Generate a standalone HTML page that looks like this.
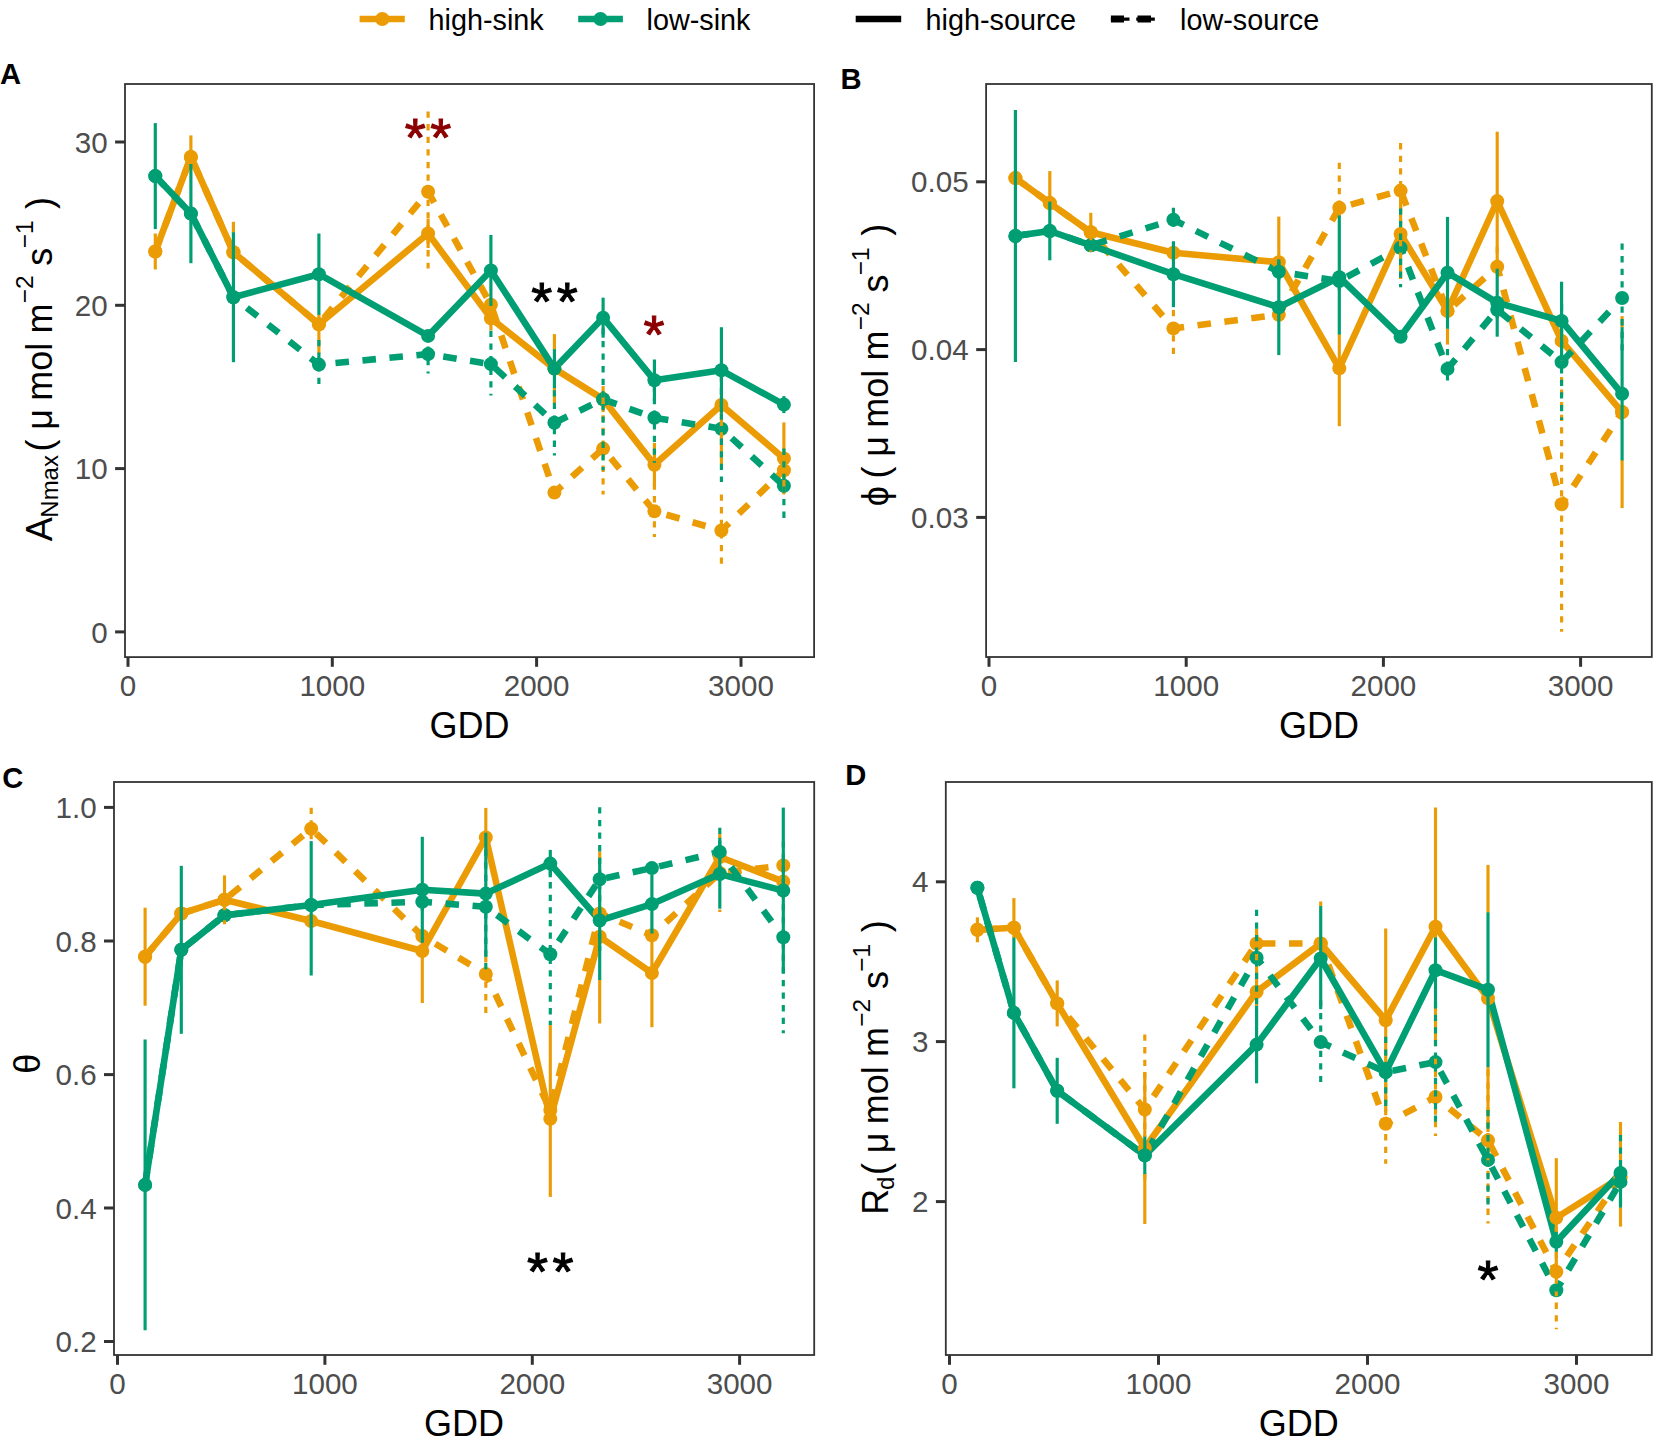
<!DOCTYPE html>
<html lang="en"><head><meta charset="utf-8"><title>Figure</title>
<style>html,body{margin:0;padding:0;background:#fff}svg{display:block}text{font-family:"Liberation Sans",sans-serif}.tk{font-size:29.6px;fill:#4D4D4D}.ax{font-size:36px;fill:#000}.tag{font-size:29.2px;font-weight:bold;fill:#000}.lg{font-size:28.8px;fill:#000}.st{font-size:54px;text-anchor:middle;letter-spacing:4.5px;stroke-width:1px}</style></head><body>
<svg width="1658" height="1446" viewBox="0 0 1658 1446">
<rect x="0" y="0" width="1658" height="1446" fill="#fff"/>
<g id="panelA">
<polyline points="155.3,251.5 190.9,156.9 233.4,252.3 318.9,324.2 428.1,233.5 490.9,318.4 554.4,368.6 603.1,399.1 654.4,464.7 721.4,405 783.9,458.4" fill="none" stroke="#EB9C05" stroke-width="6.6" stroke-linejoin="round"/>
<polyline points="155.3,251.5 190.9,156.9 233.4,252.3 318.9,324.2 428.1,191.8 490.9,304.7 554.4,492.6 603.1,448.6 654.4,511.3 721.4,530.5 783.9,470.2" fill="none" stroke="#EB9C05" stroke-width="6.6" stroke-linejoin="round" stroke-dasharray="13.55 13.55"/>
<polyline points="155.3,176.1 190.9,213.6 233.4,297.2 318.9,274.2 428.1,335.9 490.9,270.5 554.4,368.6 603.1,317.7 654.4,380.3 721.4,370.3 783.9,404.6" fill="none" stroke="#009E73" stroke-width="6.6" stroke-linejoin="round"/>
<polyline points="155.3,176.1 190.9,213.6 233.4,297.2 318.9,364.6 428.1,354.1 490.9,364.1 554.4,422.8 603.1,399.3 654.4,417.8 721.4,428.7 783.9,485.8" fill="none" stroke="#009E73" stroke-width="6.6" stroke-linejoin="round" stroke-dasharray="13.55 13.55"/>
<circle cx="155.3" cy="251.5" r="7.0" fill="#EB9C05"/>
<circle cx="190.9" cy="156.9" r="7.0" fill="#EB9C05"/>
<circle cx="233.4" cy="252.3" r="7.0" fill="#EB9C05"/>
<circle cx="318.9" cy="324.2" r="7.0" fill="#EB9C05"/>
<circle cx="428.1" cy="233.5" r="7.0" fill="#EB9C05"/>
<circle cx="490.9" cy="318.4" r="7.0" fill="#EB9C05"/>
<circle cx="554.4" cy="368.6" r="7.0" fill="#EB9C05"/>
<circle cx="603.1" cy="399.1" r="7.0" fill="#EB9C05"/>
<circle cx="654.4" cy="464.7" r="7.0" fill="#EB9C05"/>
<circle cx="721.4" cy="405" r="7.0" fill="#EB9C05"/>
<circle cx="783.9" cy="458.4" r="7.0" fill="#EB9C05"/>
<circle cx="155.3" cy="251.5" r="7.0" fill="#EB9C05"/>
<circle cx="190.9" cy="156.9" r="7.0" fill="#EB9C05"/>
<circle cx="233.4" cy="252.3" r="7.0" fill="#EB9C05"/>
<circle cx="318.9" cy="324.2" r="7.0" fill="#EB9C05"/>
<circle cx="428.1" cy="191.8" r="7.0" fill="#EB9C05"/>
<circle cx="490.9" cy="304.7" r="7.0" fill="#EB9C05"/>
<circle cx="554.4" cy="492.6" r="7.0" fill="#EB9C05"/>
<circle cx="603.1" cy="448.6" r="7.0" fill="#EB9C05"/>
<circle cx="654.4" cy="511.3" r="7.0" fill="#EB9C05"/>
<circle cx="721.4" cy="530.5" r="7.0" fill="#EB9C05"/>
<circle cx="783.9" cy="470.2" r="7.0" fill="#EB9C05"/>
<circle cx="155.3" cy="176.1" r="7.0" fill="#009E73"/>
<circle cx="190.9" cy="213.6" r="7.0" fill="#009E73"/>
<circle cx="233.4" cy="297.2" r="7.0" fill="#009E73"/>
<circle cx="318.9" cy="274.2" r="7.0" fill="#009E73"/>
<circle cx="428.1" cy="335.9" r="7.0" fill="#009E73"/>
<circle cx="490.9" cy="270.5" r="7.0" fill="#009E73"/>
<circle cx="554.4" cy="368.6" r="7.0" fill="#009E73"/>
<circle cx="603.1" cy="317.7" r="7.0" fill="#009E73"/>
<circle cx="654.4" cy="380.3" r="7.0" fill="#009E73"/>
<circle cx="721.4" cy="370.3" r="7.0" fill="#009E73"/>
<circle cx="783.9" cy="404.6" r="7.0" fill="#009E73"/>
<circle cx="155.3" cy="176.1" r="7.0" fill="#009E73"/>
<circle cx="190.9" cy="213.6" r="7.0" fill="#009E73"/>
<circle cx="233.4" cy="297.2" r="7.0" fill="#009E73"/>
<circle cx="318.9" cy="364.6" r="7.0" fill="#009E73"/>
<circle cx="428.1" cy="354.1" r="7.0" fill="#009E73"/>
<circle cx="490.9" cy="364.1" r="7.0" fill="#009E73"/>
<circle cx="554.4" cy="422.8" r="7.0" fill="#009E73"/>
<circle cx="603.1" cy="399.3" r="7.0" fill="#009E73"/>
<circle cx="654.4" cy="417.8" r="7.0" fill="#009E73"/>
<circle cx="721.4" cy="428.7" r="7.0" fill="#009E73"/>
<circle cx="783.9" cy="485.8" r="7.0" fill="#009E73"/>
<line x1="155.3" y1="233.5" x2="155.3" y2="269.5" stroke="#EB9C05" stroke-width="3.15"/>
<line x1="190.9" y1="135.4" x2="190.9" y2="164.4" stroke="#EB9C05" stroke-width="3.15"/>
<line x1="233.4" y1="221.8" x2="233.4" y2="232.6" stroke="#EB9C05" stroke-width="3.15"/>
<line x1="318.9" y1="314.5" x2="318.9" y2="353.6" stroke="#EB9C05" stroke-width="3.15"/>
<line x1="428.1" y1="219" x2="428.1" y2="248" stroke="#EB9C05" stroke-width="3.15"/>
<line x1="490.9" y1="306.4" x2="490.9" y2="330.4" stroke="#EB9C05" stroke-width="3.15"/>
<line x1="554.4" y1="334.1" x2="554.4" y2="349.5" stroke="#EB9C05" stroke-width="3.15"/>
<line x1="554.4" y1="387.7" x2="554.4" y2="403.1" stroke="#EB9C05" stroke-width="3.15"/>
<line x1="603.1" y1="386.1" x2="603.1" y2="412.1" stroke="#EB9C05" stroke-width="3.15"/>
<line x1="654.4" y1="442.9" x2="654.4" y2="486.5" stroke="#EB9C05" stroke-width="3.15"/>
<line x1="721.4" y1="413" x2="721.4" y2="464" stroke="#EB9C05" stroke-width="3.15"/>
<line x1="783.9" y1="422.4" x2="783.9" y2="494.4" stroke="#EB9C05" stroke-width="3.15"/>
<line x1="428.1" y1="111.5" x2="428.1" y2="268.6" stroke="#EB9C05" stroke-width="3.15" stroke-dasharray="6.3 6.3"/>
<line x1="490.9" y1="305.6" x2="490.9" y2="314.7" stroke="#EB9C05" stroke-width="3.15" stroke-dasharray="6.3 6.3" stroke-dashoffset="10.9"/>
<line x1="603.1" y1="402.6" x2="603.1" y2="494.6" stroke="#EB9C05" stroke-width="3.15" stroke-dasharray="6.3 6.3"/>
<line x1="654.4" y1="483.5" x2="654.4" y2="537.1" stroke="#EB9C05" stroke-width="3.15" stroke-dasharray="6.3 6.3"/>
<line x1="721.4" y1="494.5" x2="721.4" y2="563.7" stroke="#EB9C05" stroke-width="3.15" stroke-dasharray="6.3 6.3"/>
<line x1="783.9" y1="460.2" x2="783.9" y2="480.2" stroke="#EB9C05" stroke-width="3.15" stroke-dasharray="6.3 6.3"/>
<line x1="155.3" y1="123.1" x2="155.3" y2="229.1" stroke="#009E73" stroke-width="3.15"/>
<line x1="190.9" y1="164" x2="190.9" y2="263.2" stroke="#009E73" stroke-width="3.15"/>
<line x1="233.4" y1="232.2" x2="233.4" y2="362.2" stroke="#009E73" stroke-width="3.15"/>
<line x1="318.9" y1="233.5" x2="318.9" y2="314.9" stroke="#009E73" stroke-width="3.15"/>
<line x1="428.1" y1="329.9" x2="428.1" y2="341.9" stroke="#009E73" stroke-width="3.15"/>
<line x1="490.9" y1="235" x2="490.9" y2="306" stroke="#009E73" stroke-width="3.15"/>
<line x1="554.4" y1="349.1" x2="554.4" y2="388.1" stroke="#009E73" stroke-width="3.15"/>
<line x1="603.1" y1="297.7" x2="603.1" y2="337.7" stroke="#009E73" stroke-width="3.15"/>
<line x1="654.4" y1="359.5" x2="654.4" y2="401.1" stroke="#009E73" stroke-width="3.15"/>
<line x1="721.4" y1="327.2" x2="721.4" y2="413.4" stroke="#009E73" stroke-width="3.15"/>
<line x1="783.9" y1="396.1" x2="783.9" y2="413.1" stroke="#009E73" stroke-width="3.15"/>
<line x1="318.9" y1="339.9" x2="318.9" y2="384" stroke="#009E73" stroke-width="3.15" stroke-dasharray="6.3 6.3"/>
<line x1="428.1" y1="333.8" x2="428.1" y2="373.4" stroke="#009E73" stroke-width="3.15" stroke-dasharray="6.3 6.3"/>
<line x1="490.9" y1="330.8" x2="490.9" y2="395.6" stroke="#009E73" stroke-width="3.15" stroke-dasharray="6.3 6.3"/>
<line x1="554.4" y1="390.2" x2="554.4" y2="455.4" stroke="#009E73" stroke-width="3.15" stroke-dasharray="6.3 6.3"/>
<line x1="603.1" y1="328.3" x2="603.1" y2="470.3" stroke="#009E73" stroke-width="3.15" stroke-dasharray="6.3 6.3"/>
<line x1="654.4" y1="372.8" x2="654.4" y2="462.8" stroke="#009E73" stroke-width="3.15" stroke-dasharray="6.3 6.3"/>
<line x1="721.4" y1="375.6" x2="721.4" y2="482" stroke="#009E73" stroke-width="3.15" stroke-dasharray="6.3 6.3"/>
<line x1="783.9" y1="448.6" x2="783.9" y2="518" stroke="#009E73" stroke-width="3.15" stroke-dasharray="6.3 6.3"/>
<text class="st" x="430.2" y="156.4" fill="#8B0000" stroke="#8B0000">**</text><text class="st" x="556.7" y="319.5" fill="#000" stroke="#000">**</text><text class="st" x="656.2" y="353" fill="#8B0000" stroke="#8B0000">*</text>
<rect x="125" y="84" width="689.1" height="573.1" fill="none" stroke="#333" stroke-width="1.8"/>
<line x1="128" y1="657" x2="128" y2="666.8" stroke="#333" stroke-width="3"/>
<text class="tk" x="128" y="696.4" text-anchor="middle">0</text>
<line x1="332.3" y1="657" x2="332.3" y2="666.8" stroke="#333" stroke-width="3"/>
<text class="tk" x="332.3" y="696.4" text-anchor="middle">1000</text>
<line x1="536.6" y1="657" x2="536.6" y2="666.8" stroke="#333" stroke-width="3"/>
<text class="tk" x="536.6" y="696.4" text-anchor="middle">2000</text>
<line x1="741" y1="657" x2="741" y2="666.8" stroke="#333" stroke-width="3"/>
<text class="tk" x="741" y="696.4" text-anchor="middle">3000</text>
<line x1="115.1" y1="142" x2="125" y2="142" stroke="#333" stroke-width="3"/>
<text class="tk" x="107.6" y="152.6" text-anchor="end">30</text>
<line x1="115.1" y1="305.3" x2="125" y2="305.3" stroke="#333" stroke-width="3"/>
<text class="tk" x="107.6" y="315.9" text-anchor="end">20</text>
<line x1="115.1" y1="468.6" x2="125" y2="468.6" stroke="#333" stroke-width="3"/>
<text class="tk" x="107.6" y="479.2" text-anchor="end">10</text>
<line x1="115.1" y1="631.9" x2="125" y2="631.9" stroke="#333" stroke-width="3"/>
<text class="tk" x="107.6" y="642.5" text-anchor="end">0</text>
<text class="ax" x="469.6" y="737.8" text-anchor="middle">GDD</text>
<text class="tag" x="0" y="84.4">A</text>
</g>
<g id="panelB">
<polyline points="1015.4,178.1 1049.8,203.1 1090.8,232.3 1173.4,252.8 1278.8,262.2 1339.3,368.4 1400.6,234 1447.5,310.9 1497.2,201.1 1561.6,340.9 1622.1,412.1" fill="none" stroke="#EB9C05" stroke-width="6.6" stroke-linejoin="round"/>
<polyline points="1015.4,178.1 1049.8,203.1 1090.8,232.3 1173.4,328.4 1278.8,314.7 1339.3,207.8 1400.6,190.6 1447.5,310.9 1497.2,266.7 1561.6,504.3 1622.1,412.1" fill="none" stroke="#EB9C05" stroke-width="6.6" stroke-linejoin="round" stroke-dasharray="13.55 13.55"/>
<polyline points="1015.4,236 1049.8,231 1090.8,245.3 1173.4,274.2 1278.8,307.2 1339.3,277.2 1400.6,336.7 1447.5,272.7 1497.2,302.7 1561.6,320.9 1622.1,393.8" fill="none" stroke="#009E73" stroke-width="6.6" stroke-linejoin="round"/>
<polyline points="1015.4,236 1049.8,231 1090.8,245.3 1173.4,219.8 1278.8,271.7 1339.3,281 1400.6,247.8 1447.5,368.9 1497.2,309.7 1561.6,362.1 1622.1,298" fill="none" stroke="#009E73" stroke-width="6.6" stroke-linejoin="round" stroke-dasharray="13.55 13.55"/>
<circle cx="1015.4" cy="178.1" r="7.0" fill="#EB9C05"/>
<circle cx="1049.8" cy="203.1" r="7.0" fill="#EB9C05"/>
<circle cx="1090.8" cy="232.3" r="7.0" fill="#EB9C05"/>
<circle cx="1173.4" cy="252.8" r="7.0" fill="#EB9C05"/>
<circle cx="1278.8" cy="262.2" r="7.0" fill="#EB9C05"/>
<circle cx="1339.3" cy="368.4" r="7.0" fill="#EB9C05"/>
<circle cx="1400.6" cy="234" r="7.0" fill="#EB9C05"/>
<circle cx="1447.5" cy="310.9" r="7.0" fill="#EB9C05"/>
<circle cx="1497.2" cy="201.1" r="7.0" fill="#EB9C05"/>
<circle cx="1561.6" cy="340.9" r="7.0" fill="#EB9C05"/>
<circle cx="1622.1" cy="412.1" r="7.0" fill="#EB9C05"/>
<circle cx="1015.4" cy="178.1" r="7.0" fill="#EB9C05"/>
<circle cx="1049.8" cy="203.1" r="7.0" fill="#EB9C05"/>
<circle cx="1090.8" cy="232.3" r="7.0" fill="#EB9C05"/>
<circle cx="1173.4" cy="328.4" r="7.0" fill="#EB9C05"/>
<circle cx="1278.8" cy="314.7" r="7.0" fill="#EB9C05"/>
<circle cx="1339.3" cy="207.8" r="7.0" fill="#EB9C05"/>
<circle cx="1400.6" cy="190.6" r="7.0" fill="#EB9C05"/>
<circle cx="1447.5" cy="310.9" r="7.0" fill="#EB9C05"/>
<circle cx="1497.2" cy="266.7" r="7.0" fill="#EB9C05"/>
<circle cx="1561.6" cy="504.3" r="7.0" fill="#EB9C05"/>
<circle cx="1622.1" cy="412.1" r="7.0" fill="#EB9C05"/>
<circle cx="1015.4" cy="236" r="7.0" fill="#009E73"/>
<circle cx="1049.8" cy="231" r="7.0" fill="#009E73"/>
<circle cx="1090.8" cy="245.3" r="7.0" fill="#009E73"/>
<circle cx="1173.4" cy="274.2" r="7.0" fill="#009E73"/>
<circle cx="1278.8" cy="307.2" r="7.0" fill="#009E73"/>
<circle cx="1339.3" cy="277.2" r="7.0" fill="#009E73"/>
<circle cx="1400.6" cy="336.7" r="7.0" fill="#009E73"/>
<circle cx="1447.5" cy="272.7" r="7.0" fill="#009E73"/>
<circle cx="1497.2" cy="302.7" r="7.0" fill="#009E73"/>
<circle cx="1561.6" cy="320.9" r="7.0" fill="#009E73"/>
<circle cx="1622.1" cy="393.8" r="7.0" fill="#009E73"/>
<circle cx="1015.4" cy="236" r="7.0" fill="#009E73"/>
<circle cx="1049.8" cy="231" r="7.0" fill="#009E73"/>
<circle cx="1090.8" cy="245.3" r="7.0" fill="#009E73"/>
<circle cx="1173.4" cy="219.8" r="7.0" fill="#009E73"/>
<circle cx="1278.8" cy="271.7" r="7.0" fill="#009E73"/>
<circle cx="1339.3" cy="281" r="7.0" fill="#009E73"/>
<circle cx="1400.6" cy="247.8" r="7.0" fill="#009E73"/>
<circle cx="1447.5" cy="368.9" r="7.0" fill="#009E73"/>
<circle cx="1497.2" cy="309.7" r="7.0" fill="#009E73"/>
<circle cx="1561.6" cy="362.1" r="7.0" fill="#009E73"/>
<circle cx="1622.1" cy="298" r="7.0" fill="#009E73"/>
<line x1="1049.8" y1="171.1" x2="1049.8" y2="202.1" stroke="#EB9C05" stroke-width="3.15"/>
<line x1="1090.8" y1="212.8" x2="1090.8" y2="240.7" stroke="#EB9C05" stroke-width="3.15"/>
<line x1="1090.8" y1="249.9" x2="1090.8" y2="251.8" stroke="#EB9C05" stroke-width="3.15"/>
<line x1="1278.8" y1="216.6" x2="1278.8" y2="259.7" stroke="#EB9C05" stroke-width="3.15"/>
<line x1="1339.3" y1="334.1" x2="1339.3" y2="426.2" stroke="#EB9C05" stroke-width="3.15"/>
<line x1="1400.6" y1="189" x2="1400.6" y2="279" stroke="#EB9C05" stroke-width="3.15"/>
<line x1="1447.5" y1="328.3" x2="1447.5" y2="344.6" stroke="#EB9C05" stroke-width="3.15"/>
<line x1="1497.2" y1="131.7" x2="1497.2" y2="269.1" stroke="#EB9C05" stroke-width="3.15"/>
<line x1="1561.6" y1="359.7" x2="1561.6" y2="360.9" stroke="#EB9C05" stroke-width="3.15"/>
<line x1="1622.1" y1="316.1" x2="1622.1" y2="327.6" stroke="#EB9C05" stroke-width="3.15"/>
<line x1="1622.1" y1="460" x2="1622.1" y2="508.1" stroke="#EB9C05" stroke-width="3.15"/>
<line x1="1173.4" y1="306.8" x2="1173.4" y2="359.4" stroke="#EB9C05" stroke-width="3.15" stroke-dasharray="6.3 6.3" stroke-dashoffset="9.4"/>
<line x1="1339.3" y1="162.8" x2="1339.3" y2="215.8" stroke="#EB9C05" stroke-width="3.15" stroke-dasharray="6.3 6.3"/>
<line x1="1400.6" y1="143.1" x2="1400.6" y2="238.1" stroke="#EB9C05" stroke-width="3.15" stroke-dasharray="6.3 6.3"/>
<line x1="1497.2" y1="246.7" x2="1497.2" y2="269.1" stroke="#EB9C05" stroke-width="3.15" stroke-dasharray="6.3 6.3"/>
<line x1="1561.6" y1="376.9" x2="1561.6" y2="631.7" stroke="#EB9C05" stroke-width="3.15" stroke-dasharray="6.3 6.3"/>
<line x1="1015.4" y1="110" x2="1015.4" y2="362" stroke="#009E73" stroke-width="3.15"/>
<line x1="1049.8" y1="201.7" x2="1049.8" y2="260.3" stroke="#009E73" stroke-width="3.15"/>
<line x1="1090.8" y1="240.3" x2="1090.8" y2="250.3" stroke="#009E73" stroke-width="3.15"/>
<line x1="1173.4" y1="241.2" x2="1173.4" y2="307.2" stroke="#009E73" stroke-width="3.15"/>
<line x1="1278.8" y1="259.3" x2="1278.8" y2="355.1" stroke="#009E73" stroke-width="3.15"/>
<line x1="1339.3" y1="215.4" x2="1339.3" y2="334.5" stroke="#009E73" stroke-width="3.15"/>
<line x1="1400.6" y1="331.7" x2="1400.6" y2="341.7" stroke="#009E73" stroke-width="3.15"/>
<line x1="1447.5" y1="216.9" x2="1447.5" y2="328.7" stroke="#009E73" stroke-width="3.15"/>
<line x1="1497.2" y1="268.7" x2="1497.2" y2="336.7" stroke="#009E73" stroke-width="3.15"/>
<line x1="1561.6" y1="281.7" x2="1561.6" y2="360.1" stroke="#009E73" stroke-width="3.15"/>
<line x1="1622.1" y1="327.2" x2="1622.1" y2="460.4" stroke="#009E73" stroke-width="3.15"/>
<line x1="1173.4" y1="207.8" x2="1173.4" y2="231.8" stroke="#009E73" stroke-width="3.15" stroke-dasharray="6.3 6.3"/>
<line x1="1278.8" y1="261.7" x2="1278.8" y2="281.7" stroke="#009E73" stroke-width="3.15" stroke-dasharray="6.3 6.3"/>
<line x1="1339.3" y1="271" x2="1339.3" y2="291" stroke="#009E73" stroke-width="3.15" stroke-dasharray="6.3 6.3"/>
<line x1="1400.6" y1="208.4" x2="1400.6" y2="287.2" stroke="#009E73" stroke-width="3.15" stroke-dasharray="6.3 6.3"/>
<line x1="1447.5" y1="349" x2="1447.5" y2="381" stroke="#009E73" stroke-width="3.15" stroke-dasharray="6.3 6.3"/>
<line x1="1497.2" y1="299.7" x2="1497.2" y2="319.7" stroke="#009E73" stroke-width="3.15" stroke-dasharray="6.3 6.3"/>
<line x1="1561.6" y1="304.1" x2="1561.6" y2="420.1" stroke="#009E73" stroke-width="3.15" stroke-dasharray="6.3 6.3"/>
<line x1="1622.1" y1="243.5" x2="1622.1" y2="352.5" stroke="#009E73" stroke-width="3.15" stroke-dasharray="6.3 6.3"/>

<rect x="986.1" y="84" width="665.7" height="573" fill="none" stroke="#333" stroke-width="1.8"/>
<line x1="989" y1="657" x2="989" y2="666.8" stroke="#333" stroke-width="3"/>
<text class="tk" x="989" y="696.4" text-anchor="middle">0</text>
<line x1="1186.2" y1="657" x2="1186.2" y2="666.8" stroke="#333" stroke-width="3"/>
<text class="tk" x="1186.2" y="696.4" text-anchor="middle">1000</text>
<line x1="1383.4" y1="657" x2="1383.4" y2="666.8" stroke="#333" stroke-width="3"/>
<text class="tk" x="1383.4" y="696.4" text-anchor="middle">2000</text>
<line x1="1580.6" y1="657" x2="1580.6" y2="666.8" stroke="#333" stroke-width="3"/>
<text class="tk" x="1580.6" y="696.4" text-anchor="middle">3000</text>
<line x1="976.2" y1="181.8" x2="986.1" y2="181.8" stroke="#333" stroke-width="3"/>
<text class="tk" x="968.7" y="192.4" text-anchor="end">0.05</text>
<line x1="976.2" y1="349.6" x2="986.1" y2="349.6" stroke="#333" stroke-width="3"/>
<text class="tk" x="968.7" y="360.2" text-anchor="end">0.04</text>
<line x1="976.2" y1="517.4" x2="986.1" y2="517.4" stroke="#333" stroke-width="3"/>
<text class="tk" x="968.7" y="528" text-anchor="end">0.03</text>
<text class="ax" x="1319" y="737.7" text-anchor="middle">GDD</text>
<text class="tag" x="840.4" y="88.8">B</text>
</g>
<g id="panelC">
<polyline points="145.1,956.7 181.3,913.5 224.5,899.8 311.2,921 422.3,951 485.8,837.4 550.3,1118.7 599.7,936.8 651.9,973 719.8,857 783.3,881.6" fill="none" stroke="#EB9C05" stroke-width="6.6" stroke-linejoin="round"/>
<polyline points="145.1,956.7 181.3,913.5 224.5,899.8 311.2,828.7" fill="none" stroke="#EB9C05" stroke-width="6.6" stroke-linejoin="round" stroke-dasharray="13.55 13.55" stroke-dashoffset="0"/>
<polyline points="311.2,828.7 422.3,936 485.8,974 550.3,1110 599.7,913.5 651.9,935.3 719.8,873 783.3,865.4" fill="none" stroke="#EB9C05" stroke-width="6.6" stroke-linejoin="round" stroke-dasharray="13.55 13.55" stroke-dashoffset="20.1"/>
<polyline points="145.1,1184.9 181.3,949.8 224.5,915.3 311.2,905 422.3,889.8 485.8,893.6 550.3,863.6 599.7,920.5 651.9,904.1 719.8,874.1 783.3,890.6" fill="none" stroke="#009E73" stroke-width="6.6" stroke-linejoin="round"/>
<polyline points="145.1,1184.9 181.3,949.8 224.5,915.3 311.2,905 422.3,901.8 485.8,906.8 550.3,954.2 599.7,879.3 651.9,868.1 719.8,851.9 783.3,937.3" fill="none" stroke="#009E73" stroke-width="6.6" stroke-linejoin="round" stroke-dasharray="13.55 13.55"/>
<circle cx="145.1" cy="956.7" r="7.0" fill="#EB9C05"/>
<circle cx="181.3" cy="913.5" r="7.0" fill="#EB9C05"/>
<circle cx="224.5" cy="899.8" r="7.0" fill="#EB9C05"/>
<circle cx="311.2" cy="921" r="7.0" fill="#EB9C05"/>
<circle cx="422.3" cy="951" r="7.0" fill="#EB9C05"/>
<circle cx="485.8" cy="837.4" r="7.0" fill="#EB9C05"/>
<circle cx="550.3" cy="1118.7" r="7.0" fill="#EB9C05"/>
<circle cx="599.7" cy="936.8" r="7.0" fill="#EB9C05"/>
<circle cx="651.9" cy="973" r="7.0" fill="#EB9C05"/>
<circle cx="719.8" cy="857" r="7.0" fill="#EB9C05"/>
<circle cx="783.3" cy="881.6" r="7.0" fill="#EB9C05"/>
<circle cx="145.1" cy="956.7" r="7.0" fill="#EB9C05"/>
<circle cx="181.3" cy="913.5" r="7.0" fill="#EB9C05"/>
<circle cx="224.5" cy="899.8" r="7.0" fill="#EB9C05"/>
<circle cx="311.2" cy="828.7" r="7.0" fill="#EB9C05"/>
<circle cx="422.3" cy="936" r="7.0" fill="#EB9C05"/>
<circle cx="485.8" cy="974" r="7.0" fill="#EB9C05"/>
<circle cx="550.3" cy="1110" r="7.0" fill="#EB9C05"/>
<circle cx="599.7" cy="913.5" r="7.0" fill="#EB9C05"/>
<circle cx="651.9" cy="935.3" r="7.0" fill="#EB9C05"/>
<circle cx="719.8" cy="873" r="7.0" fill="#EB9C05"/>
<circle cx="783.3" cy="865.4" r="7.0" fill="#EB9C05"/>
<circle cx="145.1" cy="1184.9" r="7.0" fill="#009E73"/>
<circle cx="181.3" cy="949.8" r="7.0" fill="#009E73"/>
<circle cx="224.5" cy="915.3" r="7.0" fill="#009E73"/>
<circle cx="311.2" cy="905" r="7.0" fill="#009E73"/>
<circle cx="422.3" cy="889.8" r="7.0" fill="#009E73"/>
<circle cx="485.8" cy="893.6" r="7.0" fill="#009E73"/>
<circle cx="550.3" cy="863.6" r="7.0" fill="#009E73"/>
<circle cx="599.7" cy="920.5" r="7.0" fill="#009E73"/>
<circle cx="651.9" cy="904.1" r="7.0" fill="#009E73"/>
<circle cx="719.8" cy="874.1" r="7.0" fill="#009E73"/>
<circle cx="783.3" cy="890.6" r="7.0" fill="#009E73"/>
<circle cx="145.1" cy="1184.9" r="7.0" fill="#009E73"/>
<circle cx="181.3" cy="949.8" r="7.0" fill="#009E73"/>
<circle cx="224.5" cy="915.3" r="7.0" fill="#009E73"/>
<circle cx="311.2" cy="905" r="7.0" fill="#009E73"/>
<circle cx="422.3" cy="901.8" r="7.0" fill="#009E73"/>
<circle cx="485.8" cy="906.8" r="7.0" fill="#009E73"/>
<circle cx="550.3" cy="954.2" r="7.0" fill="#009E73"/>
<circle cx="599.7" cy="879.3" r="7.0" fill="#009E73"/>
<circle cx="651.9" cy="868.1" r="7.0" fill="#009E73"/>
<circle cx="719.8" cy="851.9" r="7.0" fill="#009E73"/>
<circle cx="783.3" cy="937.3" r="7.0" fill="#009E73"/>
<line x1="145.1" y1="907.7" x2="145.1" y2="1005.7" stroke="#EB9C05" stroke-width="3.15"/>
<line x1="224.5" y1="875.4" x2="224.5" y2="910.7" stroke="#EB9C05" stroke-width="3.15"/>
<line x1="224.5" y1="919.9" x2="224.5" y2="924.2" stroke="#EB9C05" stroke-width="3.15"/>
<line x1="422.3" y1="942.4" x2="422.3" y2="1003" stroke="#EB9C05" stroke-width="3.15"/>
<line x1="485.8" y1="807.9" x2="485.8" y2="833.1" stroke="#EB9C05" stroke-width="3.15"/>
<line x1="550.3" y1="1024.5" x2="550.3" y2="1196.9" stroke="#EB9C05" stroke-width="3.15"/>
<line x1="599.7" y1="851.5" x2="599.7" y2="858.5" stroke="#EB9C05" stroke-width="3.15"/>
<line x1="599.7" y1="979.6" x2="599.7" y2="1023.5" stroke="#EB9C05" stroke-width="3.15"/>
<line x1="651.9" y1="933.1" x2="651.9" y2="1027.2" stroke="#EB9C05" stroke-width="3.15"/>
<line x1="311.2" y1="807.7" x2="311.2" y2="841.5" stroke="#EB9C05" stroke-width="3.15" stroke-dasharray="6.3 6.3"/>
<line x1="422.3" y1="942.4" x2="422.3" y2="946" stroke="#EB9C05" stroke-width="3.15" stroke-dasharray="6.3 6.3" stroke-dashoffset="16.4"/>
<line x1="485.8" y1="956.4" x2="485.8" y2="1013.4" stroke="#EB9C05" stroke-width="3.15" stroke-dasharray="6.3 6.3" stroke-dashoffset="25.3"/>
<line x1="719.8" y1="834" x2="719.8" y2="838.1" stroke="#EB9C05" stroke-width="3.15" stroke-dasharray="6.3 6.3"/>
<line x1="719.8" y1="908.3" x2="719.8" y2="912" stroke="#EB9C05" stroke-width="3.15" stroke-dasharray="6.3 6.3" stroke-dashoffset="74.3"/>
<line x1="145.1" y1="1039.6" x2="145.1" y2="1330.2" stroke="#009E73" stroke-width="3.15"/>
<line x1="181.3" y1="865.8" x2="181.3" y2="1033.8" stroke="#009E73" stroke-width="3.15"/>
<line x1="224.5" y1="910.3" x2="224.5" y2="920.3" stroke="#009E73" stroke-width="3.15"/>
<line x1="311.2" y1="841.1" x2="311.2" y2="975.5" stroke="#009E73" stroke-width="3.15"/>
<line x1="422.3" y1="836.8" x2="422.3" y2="942.8" stroke="#009E73" stroke-width="3.15"/>
<line x1="485.8" y1="832.7" x2="485.8" y2="956.8" stroke="#009E73" stroke-width="3.15"/>
<line x1="550.3" y1="849.9" x2="550.3" y2="877.3" stroke="#009E73" stroke-width="3.15"/>
<line x1="599.7" y1="858.1" x2="599.7" y2="980" stroke="#009E73" stroke-width="3.15"/>
<line x1="651.9" y1="874.7" x2="651.9" y2="933.5" stroke="#009E73" stroke-width="3.15"/>
<line x1="719.8" y1="837.7" x2="719.8" y2="908.7" stroke="#009E73" stroke-width="3.15"/>
<line x1="783.3" y1="807.6" x2="783.3" y2="973.6" stroke="#009E73" stroke-width="3.15"/>
<line x1="422.3" y1="891.8" x2="422.3" y2="911.8" stroke="#009E73" stroke-width="3.15" stroke-dasharray="6.3 6.3"/>
<line x1="485.8" y1="849.5" x2="485.8" y2="969.3" stroke="#009E73" stroke-width="3.15" stroke-dasharray="6.3 6.3"/>
<line x1="550.3" y1="869.5" x2="550.3" y2="1025" stroke="#009E73" stroke-width="3.15" stroke-dasharray="6.3 6.3"/>
<line x1="599.7" y1="807.3" x2="599.7" y2="951" stroke="#009E73" stroke-width="3.15" stroke-dasharray="6.3 6.3"/>
<line x1="719.8" y1="827.8" x2="719.8" y2="876" stroke="#009E73" stroke-width="3.15" stroke-dasharray="6.3 6.3"/>
<line x1="783.3" y1="841.3" x2="783.3" y2="1033.3" stroke="#009E73" stroke-width="3.15" stroke-dasharray="6.3 6.3"/>
<text class="st" x="552.6" y="1290" fill="#000" stroke="#000">**</text>
<rect x="114" y="782" width="700.2" height="573" fill="none" stroke="#333" stroke-width="1.8"/>
<line x1="117.5" y1="1355" x2="117.5" y2="1364.8" stroke="#333" stroke-width="3"/>
<text class="tk" x="117.5" y="1393.6" text-anchor="middle">0</text>
<line x1="324.9" y1="1355" x2="324.9" y2="1364.8" stroke="#333" stroke-width="3"/>
<text class="tk" x="324.9" y="1393.6" text-anchor="middle">1000</text>
<line x1="532.3" y1="1355" x2="532.3" y2="1364.8" stroke="#333" stroke-width="3"/>
<text class="tk" x="532.3" y="1393.6" text-anchor="middle">2000</text>
<line x1="739.6" y1="1355" x2="739.6" y2="1364.8" stroke="#333" stroke-width="3"/>
<text class="tk" x="739.6" y="1393.6" text-anchor="middle">3000</text>
<line x1="104" y1="807.4" x2="114" y2="807.4" stroke="#333" stroke-width="3"/>
<text class="tk" x="96.6" y="818" text-anchor="end">1.0</text>
<line x1="104" y1="941" x2="114" y2="941" stroke="#333" stroke-width="3"/>
<text class="tk" x="96.6" y="951.6" text-anchor="end">0.8</text>
<line x1="104" y1="1074.6" x2="114" y2="1074.6" stroke="#333" stroke-width="3"/>
<text class="tk" x="96.6" y="1085.2" text-anchor="end">0.6</text>
<line x1="104" y1="1208" x2="114" y2="1208" stroke="#333" stroke-width="3"/>
<text class="tk" x="96.6" y="1218.6" text-anchor="end">0.4</text>
<line x1="104" y1="1341.5" x2="114" y2="1341.5" stroke="#333" stroke-width="3"/>
<text class="tk" x="96.6" y="1352.1" text-anchor="end">0.2</text>
<text class="ax" x="464.1" y="1435.8" text-anchor="middle">GDD</text>
<text class="tag" x="2.2" y="787.7">C</text>
</g>
<g id="panelD">
<polyline points="977.4,929.8 1013.9,927.8 1057.2,1003.4 1144.8,1148 1256.6,991.7 1320.7,943.5 1385.7,1020.2 1435.5,926.8 1488,998.4 1556.3,1217.8 1620.5,1177.4" fill="none" stroke="#EB9C05" stroke-width="6.6" stroke-linejoin="round"/>
<polyline points="977.4,929.8 1013.9,927.8 1057.2,1003.4 1144.8,1109.5 1256.6,943.5 1320.7,943.5 1385.7,1123.7 1435.5,1097 1488,1140.4 1556.3,1271.8 1620.5,1177.4" fill="none" stroke="#EB9C05" stroke-width="6.6" stroke-linejoin="round" stroke-dasharray="13.55 13.55" stroke-dashoffset="-6"/>
<polyline points="977.4,887.8 1013.9,1012.9 1057.2,1090.8 1144.8,1155.4 1256.6,1044.6 1320.7,958.5 1385.7,1072.1 1435.5,970.2 1488,989.7 1556.3,1241.8 1620.5,1172.9" fill="none" stroke="#009E73" stroke-width="6.6" stroke-linejoin="round"/>
<polyline points="977.4,887.8 1013.9,1012.9 1057.2,1090.8 1144.8,1155.4 1256.6,957.7 1320.7,1042.1 1385.7,1072.1 1435.5,1062.1 1488,1159.9 1556.3,1290.2 1620.5,1181.9" fill="none" stroke="#009E73" stroke-width="6.6" stroke-linejoin="round" stroke-dasharray="13.55 13.55" stroke-dashoffset="-8.5"/>
<circle cx="977.4" cy="929.8" r="7.0" fill="#EB9C05"/>
<circle cx="1013.9" cy="927.8" r="7.0" fill="#EB9C05"/>
<circle cx="1057.2" cy="1003.4" r="7.0" fill="#EB9C05"/>
<circle cx="1144.8" cy="1148" r="7.0" fill="#EB9C05"/>
<circle cx="1256.6" cy="991.7" r="7.0" fill="#EB9C05"/>
<circle cx="1320.7" cy="943.5" r="7.0" fill="#EB9C05"/>
<circle cx="1385.7" cy="1020.2" r="7.0" fill="#EB9C05"/>
<circle cx="1435.5" cy="926.8" r="7.0" fill="#EB9C05"/>
<circle cx="1488" cy="998.4" r="7.0" fill="#EB9C05"/>
<circle cx="1556.3" cy="1217.8" r="7.0" fill="#EB9C05"/>
<circle cx="1620.5" cy="1177.4" r="7.0" fill="#EB9C05"/>
<circle cx="977.4" cy="929.8" r="7.0" fill="#EB9C05"/>
<circle cx="1013.9" cy="927.8" r="7.0" fill="#EB9C05"/>
<circle cx="1057.2" cy="1003.4" r="7.0" fill="#EB9C05"/>
<circle cx="1144.8" cy="1109.5" r="7.0" fill="#EB9C05"/>
<circle cx="1256.6" cy="943.5" r="7.0" fill="#EB9C05"/>
<circle cx="1320.7" cy="943.5" r="7.0" fill="#EB9C05"/>
<circle cx="1385.7" cy="1123.7" r="7.0" fill="#EB9C05"/>
<circle cx="1435.5" cy="1097" r="7.0" fill="#EB9C05"/>
<circle cx="1488" cy="1140.4" r="7.0" fill="#EB9C05"/>
<circle cx="1556.3" cy="1271.8" r="7.0" fill="#EB9C05"/>
<circle cx="1620.5" cy="1177.4" r="7.0" fill="#EB9C05"/>
<circle cx="977.4" cy="887.8" r="7.0" fill="#009E73"/>
<circle cx="1013.9" cy="1012.9" r="7.0" fill="#009E73"/>
<circle cx="1057.2" cy="1090.8" r="7.0" fill="#009E73"/>
<circle cx="1144.8" cy="1155.4" r="7.0" fill="#009E73"/>
<circle cx="1256.6" cy="1044.6" r="7.0" fill="#009E73"/>
<circle cx="1320.7" cy="958.5" r="7.0" fill="#009E73"/>
<circle cx="1385.7" cy="1072.1" r="7.0" fill="#009E73"/>
<circle cx="1435.5" cy="970.2" r="7.0" fill="#009E73"/>
<circle cx="1488" cy="989.7" r="7.0" fill="#009E73"/>
<circle cx="1556.3" cy="1241.8" r="7.0" fill="#009E73"/>
<circle cx="1620.5" cy="1172.9" r="7.0" fill="#009E73"/>
<circle cx="977.4" cy="887.8" r="7.0" fill="#009E73"/>
<circle cx="1013.9" cy="1012.9" r="7.0" fill="#009E73"/>
<circle cx="1057.2" cy="1090.8" r="7.0" fill="#009E73"/>
<circle cx="1144.8" cy="1155.4" r="7.0" fill="#009E73"/>
<circle cx="1256.6" cy="957.7" r="7.0" fill="#009E73"/>
<circle cx="1320.7" cy="1042.1" r="7.0" fill="#009E73"/>
<circle cx="1385.7" cy="1072.1" r="7.0" fill="#009E73"/>
<circle cx="1435.5" cy="1062.1" r="7.0" fill="#009E73"/>
<circle cx="1488" cy="1159.9" r="7.0" fill="#009E73"/>
<circle cx="1556.3" cy="1290.2" r="7.0" fill="#009E73"/>
<circle cx="1620.5" cy="1181.9" r="7.0" fill="#009E73"/>
<line x1="977.4" y1="917.3" x2="977.4" y2="942.3" stroke="#EB9C05" stroke-width="3.15"/>
<line x1="1013.9" y1="898.1" x2="1013.9" y2="937.9" stroke="#EB9C05" stroke-width="3.15"/>
<line x1="1057.2" y1="980.4" x2="1057.2" y2="1026.4" stroke="#EB9C05" stroke-width="3.15"/>
<line x1="1144.8" y1="1072" x2="1144.8" y2="1137.1" stroke="#EB9C05" stroke-width="3.15"/>
<line x1="1144.8" y1="1173.7" x2="1144.8" y2="1224" stroke="#EB9C05" stroke-width="3.15"/>
<line x1="1256.6" y1="928.6" x2="1256.6" y2="1006.3" stroke="#EB9C05" stroke-width="3.15"/>
<line x1="1320.7" y1="901.5" x2="1320.7" y2="906.5" stroke="#EB9C05" stroke-width="3.15"/>
<line x1="1385.7" y1="928.5" x2="1385.7" y2="1062.5" stroke="#EB9C05" stroke-width="3.15"/>
<line x1="1385.7" y1="1081.7" x2="1385.7" y2="1111.9" stroke="#EB9C05" stroke-width="3.15"/>
<line x1="1435.5" y1="807.4" x2="1435.5" y2="937.8" stroke="#EB9C05" stroke-width="3.15"/>
<line x1="1435.5" y1="1007.4" x2="1435.5" y2="1046.2" stroke="#EB9C05" stroke-width="3.15"/>
<line x1="1488" y1="864.9" x2="1488" y2="912.7" stroke="#EB9C05" stroke-width="3.15"/>
<line x1="1488" y1="1066.7" x2="1488" y2="1131.9" stroke="#EB9C05" stroke-width="3.15"/>
<line x1="1556.3" y1="1158.2" x2="1556.3" y2="1232.2" stroke="#EB9C05" stroke-width="3.15"/>
<line x1="1556.3" y1="1251.4" x2="1556.3" y2="1277.4" stroke="#EB9C05" stroke-width="3.15"/>
<line x1="1620.5" y1="1122" x2="1620.5" y2="1160.4" stroke="#EB9C05" stroke-width="3.15"/>
<line x1="1620.5" y1="1207.2" x2="1620.5" y2="1226.6" stroke="#EB9C05" stroke-width="3.15"/>
<line x1="1144.8" y1="1034.5" x2="1144.8" y2="1137.1" stroke="#EB9C05" stroke-width="3.15" stroke-dasharray="6.3 6.3"/>
<line x1="1144.8" y1="1173.7" x2="1144.8" y2="1184.5" stroke="#EB9C05" stroke-width="3.15" stroke-dasharray="6.3 6.3" stroke-dashoffset="139.2"/>
<line x1="1256.6" y1="933.5" x2="1256.6" y2="953.5" stroke="#EB9C05" stroke-width="3.15" stroke-dasharray="6.3 6.3"/>
<line x1="1385.7" y1="1083.7" x2="1385.7" y2="1163.7" stroke="#EB9C05" stroke-width="3.15" stroke-dasharray="6.3 6.3"/>
<line x1="1435.5" y1="1058" x2="1435.5" y2="1136" stroke="#EB9C05" stroke-width="3.15" stroke-dasharray="6.3 6.3"/>
<line x1="1488" y1="1066.7" x2="1488" y2="1223.4" stroke="#EB9C05" stroke-width="3.15" stroke-dasharray="6.3 6.3" stroke-dashoffset="9.3"/>
<line x1="1556.3" y1="1214.4" x2="1556.3" y2="1232.2" stroke="#EB9C05" stroke-width="3.15" stroke-dasharray="6.3 6.3"/>
<line x1="1556.3" y1="1251.4" x2="1556.3" y2="1329.2" stroke="#EB9C05" stroke-width="3.15" stroke-dasharray="6.3 6.3" stroke-dashoffset="37"/>
<line x1="977.4" y1="884.8" x2="977.4" y2="890.8" stroke="#009E73" stroke-width="3.15"/>
<line x1="1013.9" y1="937.5" x2="1013.9" y2="1088.3" stroke="#009E73" stroke-width="3.15"/>
<line x1="1057.2" y1="1057.8" x2="1057.2" y2="1123.8" stroke="#009E73" stroke-width="3.15"/>
<line x1="1144.8" y1="1136.7" x2="1144.8" y2="1174.1" stroke="#009E73" stroke-width="3.15"/>
<line x1="1256.6" y1="1005.9" x2="1256.6" y2="1083.3" stroke="#009E73" stroke-width="3.15"/>
<line x1="1320.7" y1="906.1" x2="1320.7" y2="1009.2" stroke="#009E73" stroke-width="3.15"/>
<line x1="1385.7" y1="1062.1" x2="1385.7" y2="1082.1" stroke="#009E73" stroke-width="3.15"/>
<line x1="1435.5" y1="937.4" x2="1435.5" y2="1007.8" stroke="#009E73" stroke-width="3.15"/>
<line x1="1488" y1="912.3" x2="1488" y2="1067.1" stroke="#009E73" stroke-width="3.15"/>
<line x1="1556.3" y1="1231.8" x2="1556.3" y2="1251.8" stroke="#009E73" stroke-width="3.15"/>
<line x1="1620.5" y1="1160" x2="1620.5" y2="1207.6" stroke="#009E73" stroke-width="3.15"/>
<line x1="1256.6" y1="909.8" x2="1256.6" y2="1007" stroke="#009E73" stroke-width="3.15" stroke-dasharray="6.3 6.3"/>
<line x1="1320.7" y1="1000.3" x2="1320.7" y2="1082" stroke="#009E73" stroke-width="3.15" stroke-dasharray="6.3 6.3"/>
<line x1="1385.7" y1="1036.8" x2="1385.7" y2="1110" stroke="#009E73" stroke-width="3.15" stroke-dasharray="6.3 6.3"/>
<line x1="1435.5" y1="1002.1" x2="1435.5" y2="1122.1" stroke="#009E73" stroke-width="3.15" stroke-dasharray="6.3 6.3"/>
<line x1="1488" y1="1109.9" x2="1488" y2="1209.9" stroke="#009E73" stroke-width="3.15" stroke-dasharray="6.3 6.3"/>
<line x1="1556.3" y1="1285.2" x2="1556.3" y2="1295.2" stroke="#009E73" stroke-width="3.15" stroke-dasharray="6.3 6.3"/>
<line x1="1620.5" y1="1134.9" x2="1620.5" y2="1207" stroke="#009E73" stroke-width="3.15" stroke-dasharray="6.3 6.3"/>
<text class="st" x="1490.3" y="1297.5" fill="#000" stroke="#000">*</text>
<rect x="945.8" y="782" width="706" height="573" fill="none" stroke="#333" stroke-width="1.8"/>
<line x1="949.5" y1="1355" x2="949.5" y2="1364.8" stroke="#333" stroke-width="3"/>
<text class="tk" x="949.5" y="1393.6" text-anchor="middle">0</text>
<line x1="1158.5" y1="1355" x2="1158.5" y2="1364.8" stroke="#333" stroke-width="3"/>
<text class="tk" x="1158.5" y="1393.6" text-anchor="middle">1000</text>
<line x1="1367.5" y1="1355" x2="1367.5" y2="1364.8" stroke="#333" stroke-width="3"/>
<text class="tk" x="1367.5" y="1393.6" text-anchor="middle">2000</text>
<line x1="1576.5" y1="1355" x2="1576.5" y2="1364.8" stroke="#333" stroke-width="3"/>
<text class="tk" x="1576.5" y="1393.6" text-anchor="middle">3000</text>
<line x1="935.9" y1="881.8" x2="945.8" y2="881.8" stroke="#333" stroke-width="3"/>
<text class="tk" x="928.4" y="892.4" text-anchor="end">4</text>
<line x1="935.9" y1="1041.6" x2="945.8" y2="1041.6" stroke="#333" stroke-width="3"/>
<text class="tk" x="928.4" y="1052.2" text-anchor="end">3</text>
<line x1="935.9" y1="1201.6" x2="945.8" y2="1201.6" stroke="#333" stroke-width="3"/>
<text class="tk" x="928.4" y="1212.2" text-anchor="end">2</text>
<text class="ax" x="1298.8" y="1435.7" text-anchor="middle">GDD</text>
<text class="tag" x="845.2" y="784.6">D</text>
</g>
<text class="ax" transform="translate(51.5,541.2) rotate(-90)"><tspan x="0" y="0">A</tspan><tspan x="23.5" y="6.3" font-size="24.0">Nmax</tspan><tspan x="89.6" y="0">(</tspan><tspan x="111.4" y="0">μ</tspan><tspan x="140.4" y="0">mol</tspan><tspan x="207.6" y="0">m</tspan><tspan x="237.9" y="-18.3" font-size="24.5">−2</tspan><tspan x="275.5" y="0">s</tspan><tspan x="292.9" y="-18.3" font-size="24.5">−1</tspan><tspan x="332.3" y="0">)</tspan></text>
<text class="ax" transform="translate(887.7,504.8) rotate(-90)"><tspan x="-1.4" y="0">ϕ</tspan><tspan x="26.3" y="0">(</tspan><tspan x="48.1" y="0">μ</tspan><tspan x="77.1" y="0">mol</tspan><tspan x="144.3" y="0">m</tspan><tspan x="174.6" y="-18.3" font-size="24.5">−2</tspan><tspan x="212.2" y="0">s</tspan><tspan x="229.6" y="-18.3" font-size="24.5">−1</tspan><tspan x="269" y="0">)</tspan></text>
<text class="ax" transform="translate(40.2,1073.8) rotate(-90)">θ</text>
<text class="ax" transform="translate(887.8,1211.7) rotate(-90)"><tspan x="-2.95" y="0">R</tspan><tspan x="21.8" y="6.3" font-size="24.0">d</tspan><tspan x="36.7" y="0">(</tspan><tspan x="58.5" y="0">μ</tspan><tspan x="87.5" y="0">mol</tspan><tspan x="154.7" y="0">m</tspan><tspan x="185" y="-18.3" font-size="24.5">−2</tspan><tspan x="222.6" y="0">s</tspan><tspan x="240" y="-18.3" font-size="24.5">−1</tspan><tspan x="279.4" y="0">)</tspan></text>
<g id="legend">
<line x1="359.6" y1="19" x2="404.8" y2="19" stroke="#EB9C05" stroke-width="6.6"/>
<circle cx="382.3" cy="19" r="7.1" fill="#EB9C05"/>
<text class="lg" x="428.5" y="30.2">high-sink</text>
<line x1="578.2" y1="19" x2="622.9" y2="19" stroke="#009E73" stroke-width="6.6"/>
<circle cx="600.5" cy="19" r="7.1" fill="#009E73"/>
<text class="lg" x="646.5" y="30.2">low-sink</text>
<line x1="855.7" y1="19" x2="901.2" y2="19" stroke="#000" stroke-width="6.6"/>
<text class="lg" x="925.5" y="30.2">high-source</text>
<line x1="1110.9" y1="19" x2="1154.8" y2="19" stroke="#000" stroke-width="6.8" stroke-dasharray="13.1 13.5 13.5 20"/>
<line x1="1110.9" y1="19" x2="1154.8" y2="19" stroke="#000" stroke-width="3.25" stroke-dasharray="18.6 6.75 18.6 20"/>
<text class="lg" x="1180" y="30.2">low-source</text>
</g>
</svg></body></html>
